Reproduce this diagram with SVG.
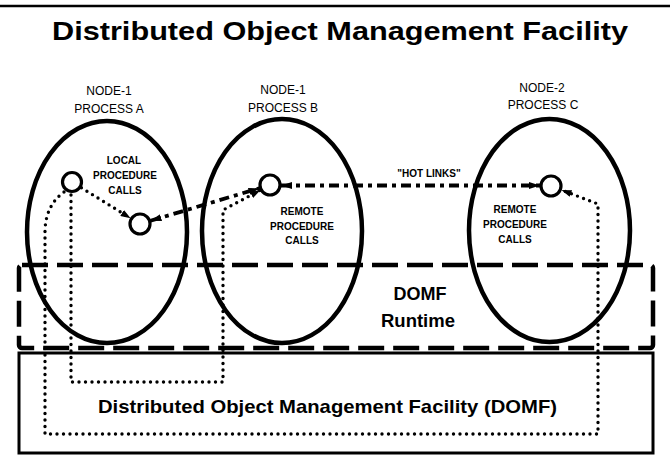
<svg xmlns="http://www.w3.org/2000/svg" width="670" height="456" viewBox="0 0 670 456">
<style>
  .bg{fill:#ffffff}
  .ell{fill:none;stroke:#000;stroke-width:4.5}
  .obj{fill:#fff;stroke:#000;stroke-width:3.2}
  .lbl{font-family:"Liberation Sans",Arial,sans-serif;font-size:12px;fill:#000;text-anchor:middle}
  .call{font-family:"Liberation Sans",Arial,sans-serif;font-size:10px;font-weight:bold;fill:#000;text-anchor:middle}
  .big{font-family:"Liberation Sans",Arial,sans-serif;font-weight:bold;fill:#000}
  .dot{fill:none;stroke:#000;stroke-width:3.4;stroke-linecap:round;stroke-dasharray:0 6.5}
  .dd{fill:none;stroke:#000;stroke-width:3.8;stroke-dasharray:10 5 4 5}
  .rt{fill:none;stroke:#000;stroke-width:4.5;stroke-dasharray:26 9}
  .box{fill:none;stroke:#000;stroke-width:3}
</style>
<defs>
  <marker id="ah" viewBox="0 0 11 7" refX="11" refY="3.5" markerWidth="11" markerHeight="7" markerUnits="userSpaceOnUse" orient="auto-start-reverse">
    <path d="M0,0 L11,3.5 L0,7 z" fill="#000"/>
  </marker>
  <marker id="ahs" viewBox="0 0 10 7" refX="10" refY="3.5" markerWidth="10" markerHeight="7" markerUnits="userSpaceOnUse" orient="auto">
    <path d="M0,0 L10,3.5 L0,7 z" fill="#000"/>
  </marker>
</defs>
<rect class="bg" x="0" y="0" width="670" height="456"/>
<line x1="0" y1="6" x2="670" y2="6" stroke="#000" stroke-width="2.5"/>
<g id="title">
  <text class="big" x="52" y="40" font-size="26" textLength="576" lengthAdjust="spacingAndGlyphs">Distributed Object Management Facility</text>
</g>
<g id="domf-runtime">
  <rect class="rt" x="19" y="265" width="634" height="83" rx="3"/>
  <text class="big" x="420" y="300" font-size="18" text-anchor="middle">DOMF</text>
  <text class="big" x="418" y="327" font-size="18.5" text-anchor="middle">Runtime</text>
</g>
<g id="domf">
  <rect class="box" x="19" y="353" width="634" height="100"/>
  <text class="big" x="98" y="413" font-size="19" textLength="459" lengthAdjust="spacingAndGlyphs">Distributed Object Management Facility (DOMF)</text>
</g>
<g id="process-a">
  <ellipse class="ell" cx="107" cy="232" rx="80" ry="111"/>
  <text class="lbl" x="109" y="95">NODE-1</text>
  <text class="lbl" x="109" y="113">PROCESS A</text>
  <text class="call" x="124" y="164">LOCAL</text>
  <text class="call" x="125" y="179">PROCEDURE</text>
  <text class="call" x="125" y="194">CALLS</text>
</g>
<g id="process-b">
  <ellipse class="ell" cx="282" cy="231" rx="80" ry="112"/>
  <text class="lbl" x="283" y="94">NODE-1</text>
  <text class="lbl" x="283" y="112">PROCESS B</text>
  <text class="call" x="302" y="215">REMOTE</text>
  <text class="call" x="302" y="230">PROCEDURE</text>
  <text class="call" x="302" y="244">CALLS</text>
</g>
<g id="process-c">
  <ellipse class="ell" cx="549.5" cy="230.5" rx="80.5" ry="111.5"/>
  <text class="lbl" x="542" y="92">NODE-2</text>
  <text class="lbl" x="543" y="109">PROCESS C</text>
  <text class="call" x="515" y="213">REMOTE</text>
  <text class="call" x="515" y="228">PROCEDURE</text>
  <text class="call" x="515" y="243">CALLS</text>
</g>
<g id="connectors">
  <path class="dot" d="M81.4,187.8 L130.6,218.2" marker-end="url(#ahs)"/>
  <path class="dot" d="M71,195 L71,382 L223,382 L223,210 L260.3,190.2" marker-end="url(#ahs)"/>
  <path class="dot" d="M64,192 Q46,205 45,230 L45,434 L598,434 L598,204 L561.5,190" marker-end="url(#ahs)"/>
  <path class="dd" d="M150.5,220.8 L259.5,188.2" marker-start="url(#ah)" marker-end="url(#ah)"/>
  <path class="dd" d="M281,185.5 L540,185.5" marker-start="url(#ah)" marker-end="url(#ah)"/>
  <text class="call" x="429" y="177" font-size="10.5">"HOT LINKS"</text>
</g>
<g id="objects">
  <circle class="obj" cx="72" cy="182" r="9.5"/>
  <circle class="obj" cx="140" cy="224" r="10"/>
  <circle class="obj" cx="270" cy="185" r="10"/>
  <circle class="obj" cx="551" cy="186" r="10"/>
</g>
</svg>
